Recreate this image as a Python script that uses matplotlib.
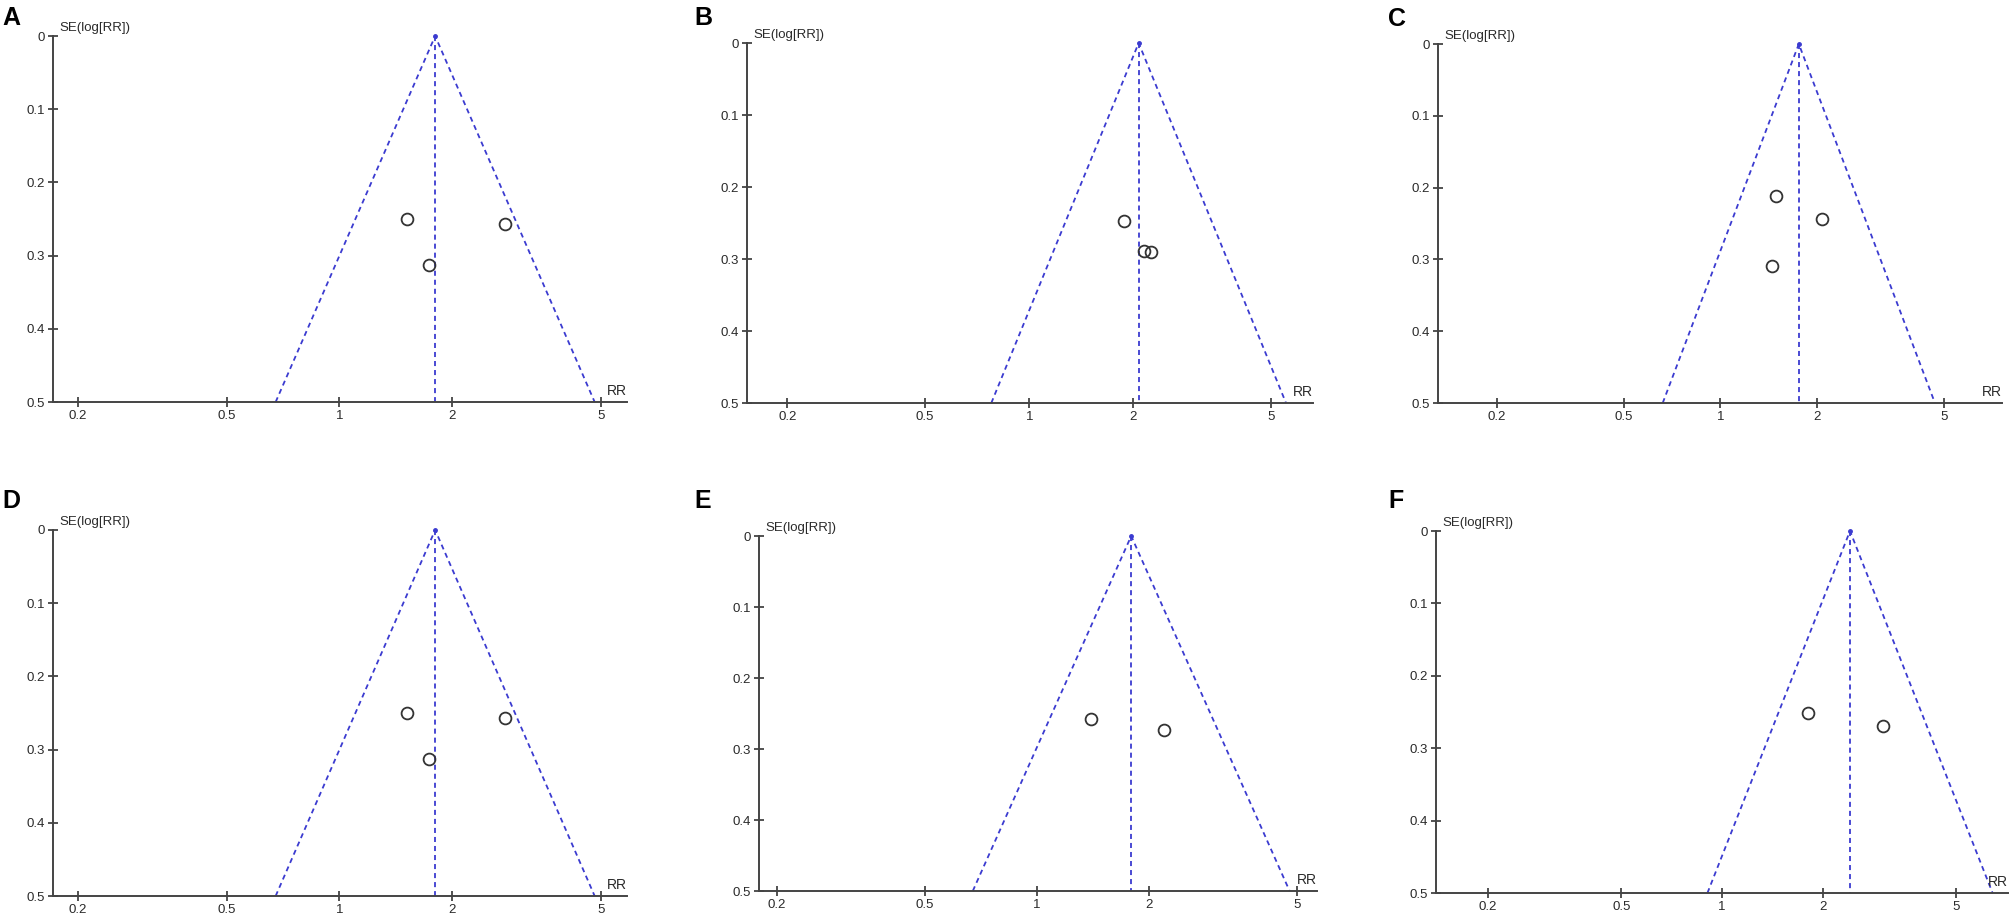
import numpy as np
import matplotlib
matplotlib.use('Agg')
import matplotlib.pyplot as plt

plt.rcParams['font.family'] = ['Liberation Sans', 'DejaVu Sans']

# Datos (funnel plots, RR vs SE(log[RR]))
paneles = ['A', 'B', 'C', 'D', 'E', 'F']
rr_combinado = [1.80, 2.07, 1.76, 1.80, 1.79, 2.41]
rr_estudios = [
    [1.51, 2.76, 1.73],
    [1.88, 2.14, 2.24],
    [1.49, 2.08, 1.45],
    [1.51, 2.76, 1.73],
    [1.40, 2.19],
    [1.80, 3.03],
]
se_estudios = [
    [0.250, 0.257, 0.313],
    [0.247, 0.289, 0.290],
    [0.212, 0.244, 0.309],
    [0.250, 0.257, 0.313],
    [0.258, 0.273],
    [0.251, 0.269],
]
x_limites = [(0.172, 5.85), (0.153, 6.6), (0.131, 7.6),
             (0.172, 5.85), (0.179, 5.65), (0.140, 7.14)]
x_ticks = [0.2, 0.5, 1, 2, 5]
x_etiquetas = ['0.2', '0.5', '1', '2', '5']
y_ticks = [0, 0.1, 0.2, 0.3, 0.4, 0.5]
y_etiquetas = ['0', '0.1', '0.2', '0.3', '0.4', '0.5']
se_max = 0.5

# Posiciones de los ejes en pixeles (izq, der, arriba, abajo)
W, H = 2009, 913
cajas = [(53, 627, 36, 402), (747, 1313, 43, 403), (1438, 2002, 44, 403),
         (53, 627, 530, 896), (759, 1317, 536, 891), (1436, 2008, 531, 893)]
letras_pos = [(2, 6), (694, 6), (1388, 7), (2, 489), (694, 489), (1388, 489)]

gris = '#444444'
texto = '#2a2a2a'
azul = '#3b3bd0'
guion = (0, (2.8, 2.2))

fig = plt.figure(figsize=(W / 100, H / 100), dpi=100)

for i, p in enumerate(paneles):
    l, r, t, b = cajas[i]
    ax = fig.add_axes([l / W, 1 - b / H, (r - l) / W, (b - t) / H])
    ax.set_xscale('log')
    ax.set_xlim(*x_limites[i])
    ax.set_ylim(se_max, 0)

    # embudo de 95% alrededor del RR combinado
    c = rr_combinado[i]
    lo = np.exp(np.log(c) - 1.96 * se_max)
    hi = np.exp(np.log(c) + 1.96 * se_max)
    ax.plot([lo, c, hi], [se_max, 0, se_max], ls=guion, color=azul, lw=1.3, clip_on=False)
    ax.plot([c, c], [0, se_max], ls=guion, color=azul, lw=1.3, clip_on=False)
    ax.plot([c], [0], marker='o', ms=2.5, color=azul, clip_on=False)

    ax.plot(rr_estudios[i], se_estudios[i], 'o', ms=8.5, mfc='none', mec='#333333', mew=1.3, ls='none')

    for s in ['top', 'right']:
        ax.spines[s].set_visible(False)
    for s in ['left', 'bottom']:
        ax.spines[s].set_color(gris)
        ax.spines[s].set_linewidth(1.4)

    ax.set_xticks(x_ticks)
    ax.set_xticklabels(x_etiquetas)
    ax.xaxis.set_minor_locator(matplotlib.ticker.NullLocator())
    ax.set_yticks(y_ticks)
    ax.set_yticklabels(y_etiquetas)
    ax.tick_params(direction='inout', length=7, width=1.3, color=gris,
                   labelsize=9.5, labelcolor=texto, pad=2)

    ax.text(0.012, 1.006, 'SE(log[RR])', transform=ax.transAxes, fontsize=9.5,
            color=texto, ha='left', va='bottom')
    ax.text(1.0, 0.012, 'RR', transform=ax.transAxes, fontsize=10,
            color=texto, ha='right', va='bottom')

    lx, ly = letras_pos[i]
    fig.text(lx / W, 1 - ly / H, p, fontsize=18, fontweight='bold',
             ha='left', va='top')

fig.savefig('out.png', dpi=100)
